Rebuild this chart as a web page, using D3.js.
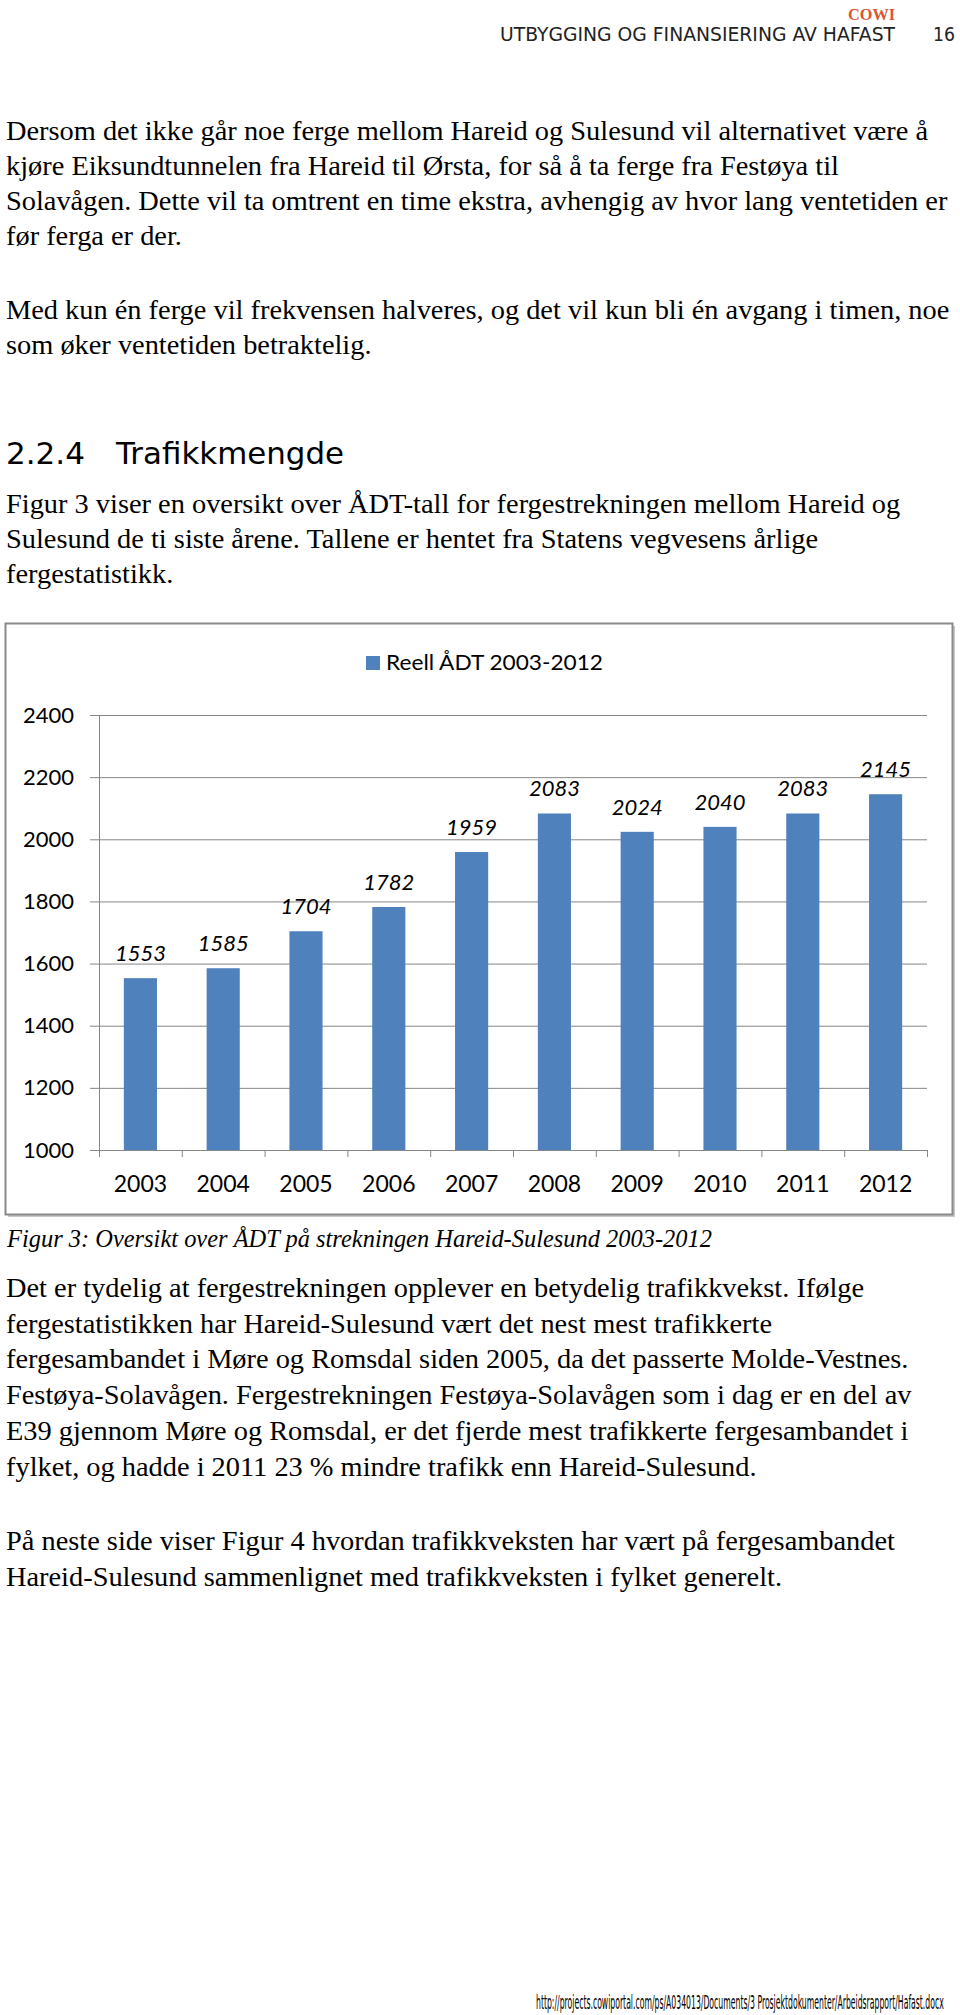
<!DOCTYPE html>
<html><head><meta charset="utf-8">
<script src="https://cdn.jsdelivr.net/npm/d3@7/dist/d3.min.js"></script>
<style>body{margin:0;background:#fff}svg{display:block}</style>
</head><body><div id="page"></div>
<script>
// ---------- data ----------
const years = ["2003","2004","2005","2006","2007","2008","2009","2010","2011","2012"];
const adt = [1553,1585,1704,1782,1959,2083,2024,2040,2083,2145];
const yTicks = [1000,1200,1400,1600,1800,2000,2200,2400];
const seriesName = "Reell ÅDT 2003-2012";

const headerTitle = "UTBYGGING OG FINANSIERING AV HAFAST";
const pageNo = "16";
const logo = "COWI";
const para1 = [
  "Dersom det ikke går noe ferge mellom Hareid og Sulesund vil alternativet være å",
  "kjøre Eiksundtunnelen fra Hareid til Ørsta, for så å ta ferge fra Festøya til",
  "Solavågen. Dette vil ta omtrent en time ekstra, avhengig av hvor lang ventetiden er",
  "før ferga er der."
];
const para2 = [
  "Med kun én ferge vil frekvensen halveres, og det vil kun bli én avgang i timen, noe",
  "som øker ventetiden betraktelig."
];
const headingNum = "2.2.4";
const headingText = "Trafikkmengde";
const para3 = [
  "Figur 3 viser en oversikt over ÅDT-tall for fergestrekningen mellom Hareid og",
  "Sulesund de ti siste årene. Tallene er hentet fra Statens vegvesens årlige",
  "fergestatistikk."
];
const caption = "Figur 3: Oversikt over ÅDT på strekningen Hareid-Sulesund 2003-2012";
const para4 = [
  "Det er tydelig at fergestrekningen opplever en betydelig trafikkvekst. Ifølge",
  "fergestatistikken har Hareid-Sulesund vært det nest mest trafikkerte",
  "fergesambandet i Møre og Romsdal siden 2005, da det passerte Molde-Vestnes.",
  "Festøya-Solavågen. Fergestrekningen Festøya-Solavågen som i dag er en del av",
  "E39 gjennom Møre og Romsdal, er det fjerde mest trafikkerte fergesambandet i",
  "fylket, og hadde i 2011 23 % mindre trafikk enn Hareid-Sulesund."
];
const para5 = [
  "På neste side viser Figur 4 hvordan trafikkveksten har vært på fergesambandet",
  "Hareid-Sulesund sammenlignet med trafikkveksten i fylket generelt."
];
const footer = "http://projects.cowiportal.com/ps/A034013/Documents/3 Prosjektdokumenter/Arbeidsrapport/Hafast.docx";

// ---------- page ----------
const W = 960, H = 2015;
const svg = d3.select("#page").append("svg").attr("width", W).attr("height", H);
const serif = "'Liberation Serif','Times New Roman',serif";
const sans = "'DejaVu Sans',Verdana,sans-serif";
const chartFont = "Lato,'Open Sans',sans-serif";

// header
svg.append("text").attr("x", 848).attr("y", 20).attr("font-family", serif).attr("font-weight", "bold")
  .attr("font-size", 17).attr("fill", "#dc5530").attr("textLength", 47).attr("lengthAdjust", "spacingAndGlyphs").text(logo);
svg.append("text").attr("x", 500).attr("y", 41).attr("font-family", sans).attr("font-size", 20)
  .attr("fill", "#222").attr("textLength", 395).attr("lengthAdjust", "spacingAndGlyphs").text(headerTitle);
svg.append("text").attr("x", 933).attr("y", 41).attr("font-family", sans).attr("font-size", 20)
  .attr("fill", "#222").attr("textLength", 22).attr("lengthAdjust", "spacingAndGlyphs").text(pageNo);

// body text: Times-like at 28px, scaled horizontally so the first line spans 922px
const FS = 28;
const probe = svg.append("text").attr("font-family", serif).attr("font-size", FS).text(para1[0]);
const k = 922 / probe.node().getComputedTextLength();
probe.remove();

function lines(arr, y0, step) {
  arr.forEach((t, i) => {
    const el = svg.append("text").attr("x", 6).attr("y", y0 + i * step).attr("font-family", serif)
      .attr("font-size", FS).attr("fill", "#000").text(t);
    const len = el.node().getComputedTextLength();
    el.attr("textLength", len * k).attr("lengthAdjust", "spacingAndGlyphs");
  });
}
lines(para1, 140, 35);
lines(para2, 319, 35);
svg.append("text").attr("x", 6).attr("y", 464).attr("font-family", sans).attr("font-size", 31)
  .attr("fill", "#000").attr("textLength", 79).attr("lengthAdjust", "spacingAndGlyphs").text(headingNum);
svg.append("text").attr("x", 116).attr("y", 464).attr("font-family", sans).attr("font-size", 31)
  .attr("fill", "#000").attr("textLength", 228).attr("lengthAdjust", "spacingAndGlyphs").text(headingText);
lines(para3, 513, 35);

// ---------- chart ----------
svg.append("rect").attr("x", 8).attr("y", 626).attr("width", 947).attr("height", 591).attr("fill", "#c8c8c8");
svg.append("rect").attr("x", 5.5).attr("y", 623.5).attr("width", 947).attr("height", 591)
  .attr("fill", "#fff").attr("stroke", "#8a8a8a").attr("stroke-width", 2);

const x = d3.scaleBand().domain(years).range([99, 927]).padding(0);
const y = d3.scaleLinear().domain([1000, 2400]).range([1150, 715]);
const g = svg.append("g");

const yAxis = d3.axisLeft(y).tickValues(yTicks).tickSize(9).tickFormat(d3.format("d"));
const yg = g.append("g").attr("transform", "translate(99,0)").call(yAxis);
yg.select(".domain").attr("stroke", "#868686");
yg.selectAll(".tick line").attr("stroke", "#868686");
yg.selectAll(".tick text").attr("x", -25).attr("font-family", chartFont).attr("font-size", 22).attr("fill", "#000");
g.append("g").selectAll("line").data(yTicks).join("line")
  .attr("x1", 99).attr("x2", 927).attr("y1", d => y(d) + 0.5).attr("y2", d => y(d) + 0.5)
  .attr("stroke", "#868686").attr("stroke-width", 1);

const xAxis = d3.axisBottom(x).tickSize(0);
const xg = g.append("g").attr("transform", "translate(0,1150)").call(xAxis);
xg.select(".domain").remove();
xg.selectAll(".tick text").attr("font-family", chartFont).attr("font-size", 23).attr("fill", "#000").attr("dy", 0).attr("y", 42);
const bounds = years.map(d => x(d)).concat([x(years[years.length - 1]) + x.bandwidth()]);
g.append("g").selectAll("line").data(bounds).join("line")
  .attr("x1", d => d + 0.5).attr("x2", d => d + 0.5).attr("y1", 1150).attr("y2", 1157)
  .attr("stroke", "#868686");

const bw = x.bandwidth() * 0.4;
g.append("g").selectAll("rect").data(adt).join("rect")
  .attr("x", (d, i) => x(years[i]) + (x.bandwidth() - bw) / 2)
  .attr("width", bw)
  .attr("y", d => y(d))
  .attr("height", d => y(1000) - y(d))
  .attr("fill", "#4f81bd");

g.append("g").selectAll("text").data(adt).join("text")
  .attr("x", (d, i) => x(years[i]) + x.bandwidth() / 2)
  .attr("y", d => y(d) - 17)
  .attr("text-anchor", "middle").attr("font-family", chartFont).attr("font-style", "italic")
  .attr("font-size", 22).attr("fill", "#000").text(d => d);

svg.append("rect").attr("x", 366).attr("y", 656).attr("width", 14).attr("height", 14).attr("fill", "#4f81bd");
svg.append("text").attr("x", 386).attr("y", 670).attr("font-family", chartFont).attr("font-size", 22)
  .attr("fill", "#000").attr("textLength", 217).attr("lengthAdjust", "spacingAndGlyphs").text(seriesName);

// caption
svg.append("text").attr("x", 7).attr("y", 1247).attr("font-family", serif).attr("font-style", "italic")
  .attr("font-size", 26).attr("fill", "#000").attr("textLength", 705).attr("lengthAdjust", "spacingAndGlyphs").text(caption);

lines(para4, 1297, 35.7);
lines(para5, 1550, 35.5);

// footer: condensed with a horizontal scale so its box ends inside the page
const ft = svg.append("text").attr("x", 0).attr("y", 0)
  .attr("font-family", "'DejaVu Sans Condensed','Liberation Sans Narrow',sans-serif")
  .attr("font-size", 19).attr("fill", "#000").text(footer);
const fsx = 408 / ft.node().getComputedTextLength();
ft.attr("transform", `translate(536,2009) scale(${fsx},1)`);
</script>
</body></html>
